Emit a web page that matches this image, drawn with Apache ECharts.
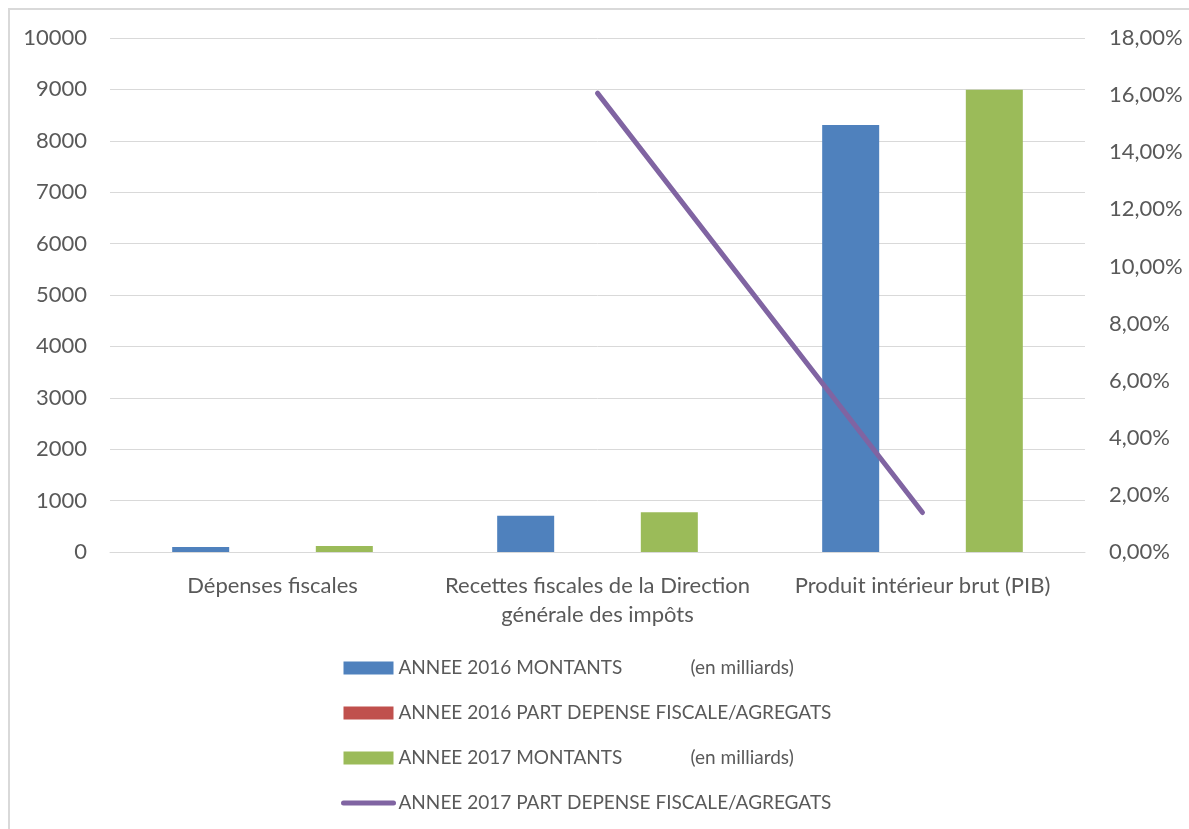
<!DOCTYPE html>
<html>
<head>
<meta charset="utf-8">
<script src="https://cdn.jsdelivr.net/npm/echarts@6/dist/echarts.min.js"></script>
<style>
  html, body { margin: 0; padding: 0; background: #ffffff; }
  #chart { width: 1189px; height: 829px; }
</style>
</head>
<body>
<div id="chart"></div>
<script>
// Categories and series values
const categories = [
  'Dépenses fiscales',
  'Recettes fiscales de la Direction\ngénérale des impôts',
  'Produit intérieur brut (PIB)'
];
const montants2016 = [95, 707, 8307];
const part2016 = [null, 0.163, 0.0138];
const montants2017 = [118, 772, 8994];
const part2017 = [null, 0.1607, 0.0138];

const seriesNames = [
  'ANNEE 2016 MONTANTS (en milliards)',
  'ANNEE 2016 PART DEPENSE FISCALE/AGREGATS',
  'ANNEE 2017 MONTANTS (en milliards)',
  'ANNEE 2017 PART DEPENSE FISCALE/AGREGATS'
];

const FONT = 'Lato, "Open Sans", sans-serif';
const TEXT = '#595959';
const GRID = '#d9d9d9';
const AXIS_FS = 22;
const LEGEND_FS = 19;

const chart = echarts.init(document.getElementById('chart'), null, { renderer: 'canvas' });

function pct(v) {
  return (v * 100).toFixed(2).replace('.', ',') + '%';
}

chart.setOption({
  animation: false,
  backgroundColor: '#ffffff',
  textStyle: { fontFamily: FONT, color: TEXT },
  graphic: [{
    type: 'rect',
    shape: { x: 9, y: 9, width: 1300, height: 900 },
    style: { fill: 'none', stroke: GRID, lineWidth: 2 },
    silent: true
  }],
  grid: { left: 110, right: 104, top: 38, bottom: 277, containLabel: false },
  legend: {
    orient: 'vertical',
    left: 336,
    top: 652,
    padding: 5,
    itemWidth: 50,
    itemHeight: 13,
    itemGap: 23,
    textStyle: {
      fontFamily: FONT, fontSize: LEGEND_FS, color: TEXT, lineHeight: 22,
      rich: {
        m: { width: 292, fontFamily: FONT, fontSize: LEGEND_FS, color: TEXT, lineHeight: 22 },
        t: { fontFamily: FONT, fontSize: LEGEND_FS, color: TEXT, lineHeight: 22 }
      }
    },
    formatter: function (name) {
      const i = name.indexOf(' (en milliards)');
      if (i >= 0) {
        return '{m|' + name.slice(0, i) + '}{t|(en milliards)}';
      }
      return '{t|' + name + '}';
    },
    data: [
      { name: seriesNames[0], icon: 'rect' },
      { name: seriesNames[1], icon: 'rect' },
      { name: seriesNames[2], icon: 'rect' },
      { name: seriesNames[3], itemStyle: { opacity: 0 }, lineStyle: { width: 5, cap: 'round' } }
    ]
  },
  xAxis: {
    type: 'category',
    data: categories,
    axisLine: { show: true, lineStyle: { color: GRID, width: 1 } },
    axisTick: { show: false },
    axisLabel: {
      fontFamily: FONT, fontSize: AXIS_FS, color: TEXT,
      margin: 19, lineHeight: 29, interval: 0
    }
  },
  yAxis: [{
    type: 'value',
    min: 0, max: 10000, interval: 1000,
    axisLine: { show: false },
    axisTick: { show: false },
    splitLine: { lineStyle: { color: GRID, width: 1 } },
    axisLabel: {
      fontFamily: FONT, fontSize: AXIS_FS, color: TEXT, margin: 23,
      formatter: function (v) { return String(v); }
    }
  }, {
    type: 'value',
    min: 0, max: 0.18, interval: 0.02,
    position: 'right',
    axisLine: { show: false },
    axisTick: { show: false },
    splitLine: { show: false },
    axisLabel: { fontFamily: FONT, fontSize: AXIS_FS, color: TEXT, margin: 24, formatter: pct }
  }],
  series: [{
    name: seriesNames[0],
    type: 'bar',
    data: montants2016,
    itemStyle: { color: '#4F81BD' },
    barWidth: 57,
    barGap: '26%',
    barCategoryGap: '38%'
  }, {
    name: seriesNames[1],
    type: 'bar',
    data: part2016,
    itemStyle: { color: '#C0504D' },
    barWidth: 57,
    barGap: '26%'
  }, {
    name: seriesNames[2],
    type: 'bar',
    data: montants2017,
    itemStyle: { color: '#9BBB59' },
    barWidth: 57,
    barGap: '26%'
  }, {
    name: seriesNames[3],
    type: 'line',
    yAxisIndex: 1,
    data: part2017,
    symbol: 'none',
    connectNulls: false,
    lineStyle: { color: '#8064A2', width: 5, cap: 'round' },
    itemStyle: { color: '#8064A2' }
  }]
});
</script>
</body>
</html>
